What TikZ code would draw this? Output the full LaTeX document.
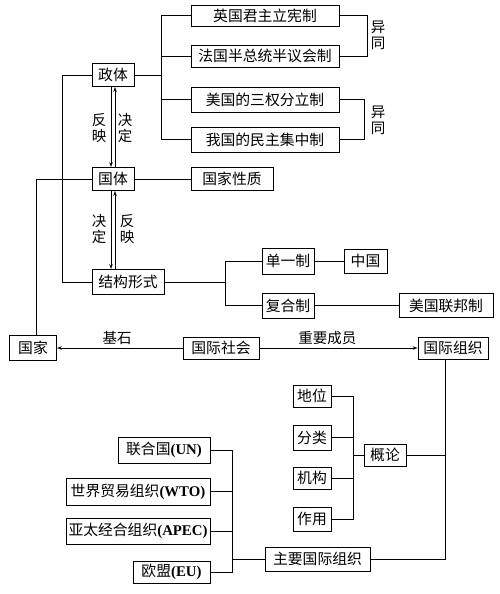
\documentclass[tikz,border=0pt]{standalone}
\usepackage{fontspec}
\setmainfont{Liberation Serif}
\newfontfamily\cjk{Noto Sans CJK SC}
\usetikzlibrary{arrows.meta}
\begin{document}
\begin{tikzpicture}[x=1pt,y=-1pt,
  box/.style={draw, line width=0.8pt, inner sep=0pt, font=\cjk\fontsize{14.8}{15}\selectfont},
  ln/.style={line width=0.8pt},
  arr/.style={line width=0.8pt, -{Stealth[length=5pt,width=3.5pt]}},
  lab/.style={inner sep=0pt, font=\cjk\fontsize{14.5}{16}\selectfont, align=center}]
\useasboundingbox (0,0) rectangle (500,594);
\newcommand{\bx}[5]{\node[box, minimum width=#3, minimum height=#4] (#1) at #2 {#5};}
\bx{zhengti}{(113,75)}{42}{23}{政体}
\bx{guoti}{(113,179)}{42}{23}{国体}
\bx{jiegou}{(128,282)}{72}{25}{结构形式}
\bx{guojia}{(33,348)}{47}{25}{国家}
\bx{shehui}{(221,348)}{76}{22}{国际社会}
\bx{zuzhi}{(453,348)}{70}{22}{国际组织}
\bx{yg}{(265,15.5)}{148}{21}{英国君主立宪制}
\bx{fg}{(265,56)}{148}{22}{法国半总统半议会制}
\bx{mg}{(265,99.5)}{148}{25}{美国的三权分立制}
\bx{wg}{(265,139.5)}{148}{25}{我国的民主集中制}
\bx{xz}{(232,179)}{82}{23}{国家性质}
\bx{dy}{(288,261)}{52}{26}{单一制}
\bx{fh}{(288,305.5)}{52}{25}{复合制}
\bx{zg}{(365.5,261)}{43}{24}{中国}
\bx{mlb}{(446,305.5)}{94}{24}{美国联邦制}
\bx{dw}{(312,396)}{38}{22}{地位}
\bx{fl}{(312,437.5)}{38}{25}{分类}
\bx{jg}{(312,478)}{38}{22}{机构}
\bx{zy}{(312,519)}{38}{24}{作用}
\bx{gl}{(385,455)}{42}{22}{概论}
\bx{zyzz}{(317.5,559)}{105}{24}{主要国际组织}
\bx{un}{(164,450)}{92}{26}{联合国{\rmfamily\bfseries (UN)}}
\bx{wto}{(138,491.5)}{144}{27}{世界贸易组织{\rmfamily\bfseries (WTO)}}
\bx{apec}{(138,531)}{144}{26}{亚太经合组织{\rmfamily\bfseries (APEC)}}
\bx{eu}{(171.5,572)}{77}{22}{欧盟{\rmfamily\bfseries (EU)}}
% zhengti tree
\draw[ln] (zhengti.east) -- ++(28,0);
\draw[ln] (yg.west) -- ++(-29,0) |- (wg.west);
\draw[ln] (fg.west) -- ++(-29,0);
\draw[ln] (mg.west) -- ++(-29,0);
% yitong brackets
\draw[ln] (yg.east) -- ++(28,0) |- (fg.east);
\draw[ln] (mg.east) -- ++(25,0) |- (wg.east);
\node[lab] (yt1) at (378,35) {异\\同};
\node[lab] (yt2) at (378,120) {异\\同};
% guoti - xingzhi
\draw[ln] (guoti.east) -- (xz.west);
% arrows zhengti/guoti
\draw[arr] ([xshift=-2pt]zhengti.south) -- ([xshift=-2pt]guoti.north);
\draw[arr] ([xshift=2pt]guoti.north) -- ([xshift=2pt]zhengti.south);
\node[lab] (fy1) at (99,128) {反\\映};
\node[lab] (jd1) at (125,128) {决\\定};
% arrows guoti/jiegou
\draw[arr] ([xshift=-2pt]guoti.south) -- ([xshift=-2pt]guoti.south |- jiegou.north);
\draw[arr] ([xshift=2pt]guoti.south |- jiegou.north) -- ([xshift=2pt]guoti.south);
\node[lab] (jd2) at (99,229) {决\\定};
\node[lab] (fy2) at (127,229) {反\\映};
% left lines
\draw[ln] (zhengti.west) -- ++(-29,0) |- (jiegou.west);
\draw[ln] (guoti.west) -| ([xshift=3pt]guojia.north);
% jiegou tree
\draw[ln] (jiegou.east) -- ++(62,0);
\draw[ln] (dy.west) -- ++(-36,0) |- (fh.west);
\draw[ln] (dy.east) -- (zg.west);
\draw[ln] (fh.east) -- (mlb.west);
% shehui arrows
\draw[arr] (shehui.west) -- (guojia.east) node[lab, pos=0.52, above=3pt] {基石};
\draw[arr] (shehui.east) -- (zuzhi.west) node[lab, pos=0.43, above=3pt] {重要成员};
% zuzhi down
\coordinate (zb) at ([xshift=-8pt]zuzhi.south);
\draw[ln] (zb) |- (zyzz.east);
\draw[ln] (gl.east) -- (gl.east -| zb);
% gailun tree
\draw[ln] (dw.east) -- ++(22,0) |- (zy.east);
\draw[ln] (fl.east) -- ++(22,0);
\draw[ln] (jg.east) -- ++(22,0);
\draw[ln] (gl.west) -- ++(-11,0);
% org tree
\draw[ln] (un.east) -- ++(22,0) |- (eu.east);
\draw[ln] (wto.east) -- ++(22,0);
\draw[ln] (apec.east) -- ++(22,0);
\draw[ln] (zyzz.west) -- ++(-33,0);
\end{tikzpicture}
\end{document}
